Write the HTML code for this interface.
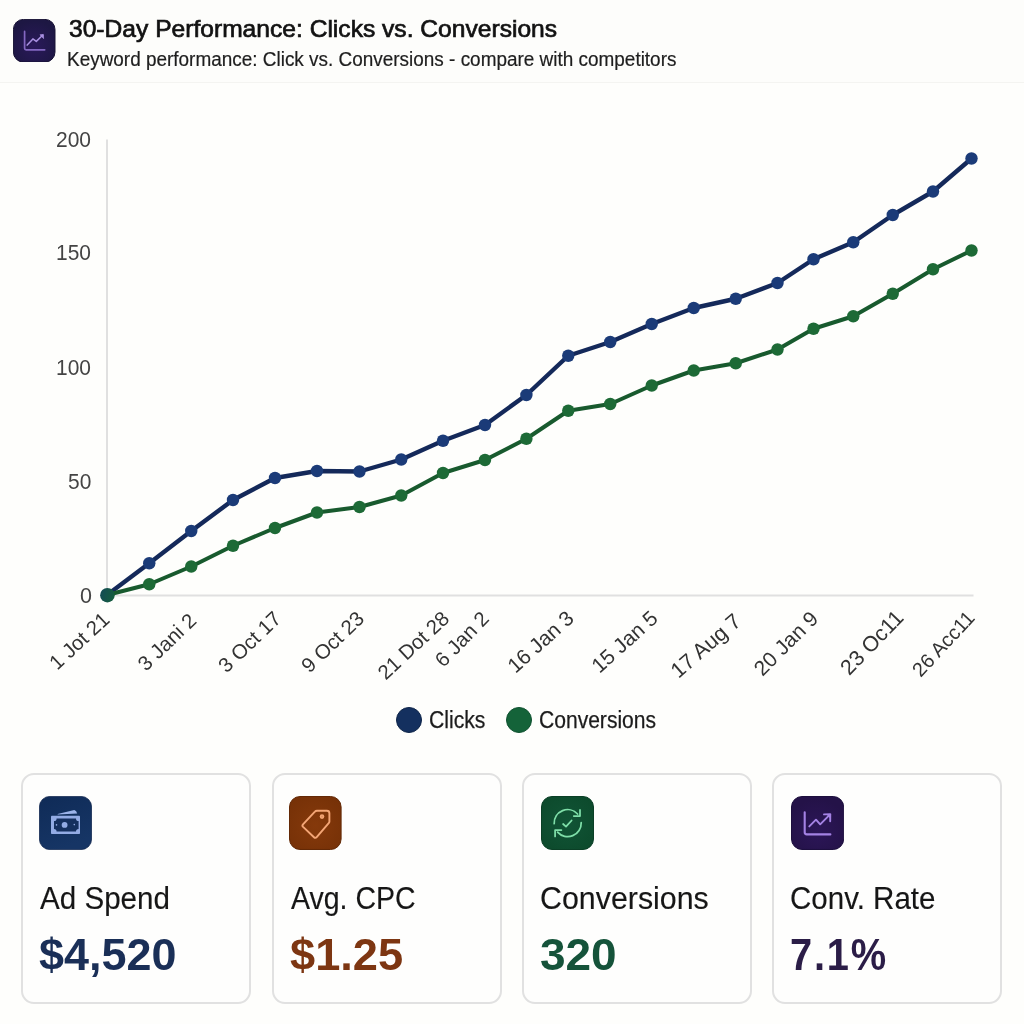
<!DOCTYPE html>
<html lang="en">
<head>
<meta charset="utf-8">
<title>30-Day Performance: Clicks vs. Conversions</title>
<style>
*{box-sizing:border-box;margin:0;padding:0}
html,body{width:1024px;height:1024px;overflow:hidden;background:#fefefc;font-family:"Liberation Sans",sans-serif;color:#1a1a1a}
.abs{position:absolute}
.tx{white-space:nowrap;transform-origin:0 50%}
#hr{left:0;top:0;width:1024px;height:83px;background:#fdfdfb;border-bottom:1px solid #f4f4f1}
.xl{font-size:20px;line-height:24px;color:#333;white-space:nowrap;transform-origin:100% 50%;transform:rotate(-41deg);text-align:right}
.dot{width:26px;height:26px;border-radius:50%}
.card{top:773px;width:230px;height:231px;border:2px solid #e1e1e1;border-radius:13px;background:#fefefd}
</style>
</head>
<body>
<div class="abs" id="hr"></div>
<svg class="abs" style="left:13.4px;top:18.75px" width="42.4" height="43.5" viewBox="0 0 42.4 43.5">
<defs><radialGradient id="gh" cx="50%" cy="62%" r="60%"><stop offset="0" stop-color="#2a195a"/><stop offset="1" stop-color="#1d1743"/></radialGradient></defs>
<rect x="0.4" y="0.4" width="41.6" height="42.7" rx="10" fill="url(#gh)" stroke="#161033" stroke-width="1"/>
<path d="M11.6 12.4 V29.3 Q11.6 30.8 13.1 30.8 H31.7" fill="none" stroke="#8468c2" stroke-width="1.7" stroke-linecap="round" stroke-linejoin="round"/>
<path d="M14.2 26.1 L19.9 19.9 L23.3 22.4 L29.6 16.2" fill="none" stroke="#a88fe0" stroke-width="1.5" stroke-linecap="round" stroke-linejoin="round"/>
<path d="M27 15.8 L30.4 15.4 L30.6 19.6 Z" fill="#a88fe0" stroke="#a88fe0" stroke-width="0.7" stroke-linejoin="round"/>
</svg>

<svg class="abs" style="left:0;top:0" width="1024" height="760" viewBox="0 0 1024 760">
<line x1="107" y1="139.5" x2="107" y2="596" stroke="#e0e0e0" stroke-width="2"/>
<line x1="106" y1="595.5" x2="973.5" y2="595.5" stroke="#e0e0e0" stroke-width="2"/>
<g><polyline fill="none" stroke="#14295a" stroke-width="4.4" stroke-linejoin="round" stroke-linecap="round" points="107,595 149.25,563.25 191.25,531 233,500 275,478 317,471 359.5,471.5 401.25,459.5 443,440.75 485,425 526.4,395 568.25,355.75 610.25,342 651.75,324 693.75,308 735.75,298.75 777.5,283 813.5,259.25 853.25,242.25 892.75,215 933,191.5 971.5,158.5"/><circle cx="149.25" cy="563.25" r="6.2" fill="#1b3b78"/><circle cx="191.25" cy="531" r="6.2" fill="#1b3b78"/><circle cx="233" cy="500" r="6.2" fill="#1b3b78"/><circle cx="275" cy="478" r="6.2" fill="#1b3b78"/><circle cx="317" cy="471" r="6.2" fill="#1b3b78"/><circle cx="359.5" cy="471.5" r="6.2" fill="#1b3b78"/><circle cx="401.25" cy="459.5" r="6.2" fill="#1b3b78"/><circle cx="443" cy="440.75" r="6.2" fill="#1b3b78"/><circle cx="485" cy="425" r="6.2" fill="#1b3b78"/><circle cx="526.4" cy="395" r="6.2" fill="#1b3b78"/><circle cx="568.25" cy="355.75" r="6.2" fill="#1b3b78"/><circle cx="610.25" cy="342" r="6.2" fill="#1b3b78"/><circle cx="651.75" cy="324" r="6.2" fill="#1b3b78"/><circle cx="693.75" cy="308" r="6.2" fill="#1b3b78"/><circle cx="735.75" cy="298.75" r="6.2" fill="#1b3b78"/><circle cx="777.5" cy="283" r="6.2" fill="#1b3b78"/><circle cx="813.5" cy="259.25" r="6.2" fill="#1b3b78"/><circle cx="853.25" cy="242.25" r="6.2" fill="#1b3b78"/><circle cx="892.75" cy="215" r="6.2" fill="#1b3b78"/><circle cx="933" cy="191.5" r="6.2" fill="#1b3b78"/><circle cx="971.5" cy="158.5" r="6.2" fill="#1b3b78"/></g>
<g><polyline fill="none" stroke="#185a2e" stroke-width="4" stroke-linejoin="round" stroke-linecap="round" points="107,595 149.25,584.25 191.25,566.5 233,545.75 275,528 317,512.5 359.5,507 401.25,495.5 443,473 485,460 526.4,438.75 568.25,410.75 610.25,404 651.75,385.5 693.75,370.5 735.75,363.25 777.5,349.5 813.5,328.75 853.25,316.25 892.75,293.75 933,269.25 971.5,250.5"/><circle cx="149.25" cy="584.25" r="6.2" fill="#1d6a36"/><circle cx="191.25" cy="566.5" r="6.2" fill="#1d6a36"/><circle cx="233" cy="545.75" r="6.2" fill="#1d6a36"/><circle cx="275" cy="528" r="6.2" fill="#1d6a36"/><circle cx="317" cy="512.5" r="6.2" fill="#1d6a36"/><circle cx="359.5" cy="507" r="6.2" fill="#1d6a36"/><circle cx="401.25" cy="495.5" r="6.2" fill="#1d6a36"/><circle cx="443" cy="473" r="6.2" fill="#1d6a36"/><circle cx="485" cy="460" r="6.2" fill="#1d6a36"/><circle cx="526.4" cy="438.75" r="6.2" fill="#1d6a36"/><circle cx="568.25" cy="410.75" r="6.2" fill="#1d6a36"/><circle cx="610.25" cy="404" r="6.2" fill="#1d6a36"/><circle cx="651.75" cy="385.5" r="6.2" fill="#1d6a36"/><circle cx="693.75" cy="370.5" r="6.2" fill="#1d6a36"/><circle cx="735.75" cy="363.25" r="6.2" fill="#1d6a36"/><circle cx="777.5" cy="349.5" r="6.2" fill="#1d6a36"/><circle cx="813.5" cy="328.75" r="6.2" fill="#1d6a36"/><circle cx="853.25" cy="316.25" r="6.2" fill="#1d6a36"/><circle cx="892.75" cy="293.75" r="6.2" fill="#1d6a36"/><circle cx="933" cy="269.25" r="6.2" fill="#1d6a36"/><circle cx="971.5" cy="250.5" r="6.2" fill="#1d6a36"/></g>
<defs><linearGradient id="g0" x1="0" y1="0" x2="1" y2="0.3"><stop offset="0" stop-color="#144a56"/><stop offset="1" stop-color="#155c40"/></linearGradient></defs><circle cx="107.4" cy="595.2" r="7.3" fill="url(#g0)"/>
</svg>

<div class="abs xl" style="right:917.8px;top:604.1px;font-size:20.5px;transform:rotate(-43deg)">1 Jot 21</div>
<div class="abs xl" style="right:831.5px;top:604.6px;font-size:20.5px;transform:rotate(-44deg)">3 Jani 2</div>
<div class="abs xl" style="right:746.1px;top:603.1px;font-size:20.5px;transform:rotate(-44deg)">3 Oct 17</div>
<div class="abs xl" style="right:663.4px;top:603.2px;font-size:20.5px;transform:rotate(-44deg)">9 Oct 23</div>
<div class="abs xl" style="right:578.6px;top:603px;font-size:20.5px;transform:rotate(-43deg)">21 Dot 28</div>
<div class="abs xl" style="right:538.4px;top:603.4px;font-size:20.5px;transform:rotate(-46deg)">6 Jan 2</div>
<div class="abs xl" style="right:453.4px;top:603.4px;font-size:21px;transform:rotate(-42deg)">16 Jan 3</div>
<div class="abs xl" style="right:369.6px;top:602.9px;font-size:21px;transform:rotate(-42deg)">15 Jan 5</div>
<div class="abs xl" style="right:286.6px;top:605.5px;font-size:21.5px;transform:rotate(-41deg)">17 Aug 7</div>
<div class="abs xl" style="right:209.6px;top:603.1px;font-size:21px;transform:rotate(-45deg)">20 Jan 9</div>
<div class="abs xl" style="right:124.6px;top:602px;font-size:21.5px;transform:rotate(-46deg)">23 Oc11</div>
<div class="abs xl" style="right:53.2px;top:602px;font-size:20px;transform:rotate(-47deg)">26 Acc11</div>


<div class="abs dot" style="left:395.7px;top:707.1px;background:#14305f;border:1.5px solid #0e2549"></div>
<div class="abs dot" style="left:505.7px;top:707.1px;background:#146339;border:1.5px solid #0f5230"></div>

<div class="abs card" style="left:21px"></div>
<div class="abs card" style="left:272px"></div>
<div class="abs card" style="left:522px"></div>
<div class="abs card" style="left:772px"></div>
<svg class="abs" style="left:39px;top:796.4px" width="53" height="54" viewBox="0 0 53 54">
<defs><linearGradient id="g1" x1="0" y1="0" x2="0.4" y2="1"><stop offset="0" stop-color="#0f2b57"/><stop offset="1" stop-color="#163565"/></linearGradient></defs>
<rect x="0.4" y="0.4" width="52.2" height="53.2" rx="10.5" fill="url(#g1)" stroke="#10264e" stroke-width="0.8"/>
<path d="M18.6 18.1 L35.3 14.1 Q37.6 14.6 38.2 17.6 L18.7 18.4 Z" fill="#9db4ea"/>
<rect x="12" y="19.7" width="29" height="18.3" rx="0.8" fill="#93abe4"/>
<path d="M17.6 22.5 H37 A2.6 2.6 0 0 0 39.6 25.1 V33 A2.6 2.6 0 0 0 37 35.6 H17.6 A2.6 2.6 0 0 0 15 33 V25.1 A2.6 2.6 0 0 0 17.6 22.5 Z" fill="#15305f"/>
<circle cx="25.6" cy="28.9" r="2.9" fill="#93abe4"/>
<circle cx="17.5" cy="28.9" r="0.8" fill="#93abe4"/><circle cx="35.3" cy="28.6" r="0.8" fill="#93abe4"/>
</svg>
<svg class="abs" style="left:289.4px;top:796.3px" width="52.6" height="54" viewBox="0 0 52.6 54">
<defs><radialGradient id="g2" cx="50%" cy="55%" r="65%"><stop offset="0" stop-color="#85390b"/><stop offset="1" stop-color="#763107"/></radialGradient></defs>
<rect x="0.5" y="0.5" width="51.6" height="53" rx="10.5" fill="url(#g2)" stroke="#622805" stroke-width="1"/>
<path d="M27.6 13.9 H37.6 Q40.1 13.9 40.1 16.4 V24.6 Q40.1 25.6 39.4 26.4 L27.4 40.3 Q26.1 41.7 24.7 40.4 L13.8 30.1 Q12.5 28.8 13.7 27.5 L25.6 14.8 Q26.4 13.9 27.6 13.9 Z" fill="none" stroke="#f4a676" stroke-width="1.9" stroke-linejoin="round" transform="translate(0.3 0.8)"/>
<circle cx="33" cy="20.6" r="2.3" fill="#f4a676"/><circle cx="33" cy="20.6" r="0.9" fill="#e0935f"/>
</svg>
<svg class="abs" style="left:540.5px;top:796.4px" width="53" height="54" viewBox="0 0 53 54">
<defs><radialGradient id="g3" cx="50%" cy="50%" r="70%"><stop offset="0" stop-color="#115436"/><stop offset="1" stop-color="#0c492b"/></radialGradient></defs>
<rect x="0.5" y="0.5" width="52" height="53" rx="10.5" fill="url(#g3)" stroke="#0b3f26" stroke-width="1"/>
<g fill="none" stroke="#7fdfa9" stroke-width="1.75" stroke-linecap="round" stroke-linejoin="round">
<path d="M13.2 27.6 A13.5 13.5 0 0 1 36.6 18"/>
<path d="M39 13.9 V20.1 H32.8"/>
<path d="M40.2 26.6 A13.5 13.5 0 0 1 16.6 36.1"/>
<path d="M14.1 40.4 V34.1 H20.4"/>
<path d="M22.1 28 L25 30.6 L30.6 24.5"/>
</g>
</svg>
<svg class="abs" style="left:790.8px;top:796.3px" width="53.2" height="54" viewBox="0 0 53.2 54">
<defs><radialGradient id="g4" cx="50%" cy="65%" r="60%"><stop offset="0" stop-color="#2c1658"/><stop offset="1" stop-color="#241248"/></radialGradient></defs>
<rect x="0.5" y="0.5" width="52.2" height="53" rx="10.5" fill="url(#g4)" stroke="#1c0e3c" stroke-width="1"/>
<g fill="none" stroke="#a482e4" stroke-width="2.1" stroke-linecap="round" stroke-linejoin="round">
<path d="M13.7 16.3 V36.3 Q13.7 38.4 15.8 38.4 H39.4"/>
<path d="M18.3 30.4 L25 23.7 L29.2 28.3 L38.6 18.8" stroke-width="1.9"/>
</g>
<path d="M33 18.4 L39.3 18.1 L39.2 25.2" fill="none" stroke="#a482e4" stroke-width="1.9" stroke-linecap="round" stroke-linejoin="round"/><path d="M35.6 18.4 L39.2 18.2 L39.1 22.2 Z" fill="#a482e4"/>
</svg>

<div class="abs tx" id="title" style="left:68.50px;top:13.58px;font-size:24.3px;line-height:29px;transform:scaleX(1.0125);color:#121212;-webkit-text-stroke:0.7px #121212">30-Day Performance: Clicks vs. Conversions</div>
<div class="abs tx" id="sub" style="left:67.25px;top:47.21px;font-size:19.6px;line-height:24px;transform:scaleX(0.9666);color:#1e1e1e;-webkit-text-stroke:0.2px #1e1e1e">Keyword performance: Click vs. Conversions - compare with competitors</div>
<div class="abs tx" id="y200" style="left:56.30px;top:126.52px;font-size:21.3px;line-height:26px;transform:scaleX(0.9855);color:#444">200</div>
<div class="abs tx" id="y150" style="left:56.40px;top:240.42px;font-size:21.3px;line-height:26px;transform:scaleX(0.9828);color:#444">150</div>
<div class="abs tx" id="y100" style="left:56.40px;top:354.52px;font-size:21.3px;line-height:26px;transform:scaleX(0.9828);color:#444">100</div>
<div class="abs tx" id="y50" style="left:68.20px;top:468.62px;font-size:21.3px;line-height:26px;transform:scaleX(0.9821);color:#444">50</div>
<div class="abs tx" id="y0" style="left:79.80px;top:582.82px;font-size:21.3px;line-height:26px;transform:scaleX(1.0101);color:#444">0</div>
<div class="abs tx" id="lg1" style="left:429.20px;top:705.93px;font-size:23.3px;line-height:28px;transform:scaleX(0.9084);color:#1c1c1c;-webkit-text-stroke:0.25px #1c1c1c">Clicks</div>
<div class="abs tx" id="lg2" style="left:538.50px;top:705.93px;font-size:23.3px;line-height:28px;transform:scaleX(0.9039);color:#1c1c1c;-webkit-text-stroke:0.25px #1c1c1c">Conversions</div>
<div class="abs tx" id="c1l" style="left:39.50px;top:879.58px;font-size:30.8px;line-height:37px;transform:scaleX(0.9608);color:#161616;-webkit-text-stroke:0.15px #161616">Ad Spend</div>
<div class="abs tx" id="c1v" style="left:38.75px;top:928.15px;font-size:44.3px;line-height:53px;transform:scaleX(1.0150);color:#1a2f57;font-weight:bold">$4,520</div>
<div class="abs tx" id="c2l" style="left:290.50px;top:879.58px;font-size:30.8px;line-height:37px;transform:scaleX(0.9254);color:#161616;-webkit-text-stroke:0.15px #161616">Avg. CPC</div>
<div class="abs tx" id="c2v" style="left:289.75px;top:928.15px;font-size:44.3px;line-height:53px;transform:scaleX(1.0207);color:#7d3612;font-weight:bold">$1.25</div>
<div class="abs tx" id="c3l" style="left:540.00px;top:878.59px;font-size:32.2px;line-height:39px;transform:scaleX(0.9435);color:#161616;-webkit-text-stroke:0.15px #161616">Conversions</div>
<div class="abs tx" id="c3v" style="left:540.00px;top:927.66px;font-size:45px;line-height:54px;transform:scaleX(1.0210);color:#15533a;font-weight:bold">320</div>
<div class="abs tx" id="c4l" style="left:790.25px;top:878.59px;font-size:32.2px;line-height:39px;transform:scaleX(0.9167);color:#161616;-webkit-text-stroke:0.15px #161616">Conv. Rate</div>
<div class="abs tx" id="c4v" style="left:790.25px;top:927.66px;font-size:45px;line-height:54px;transform:scaleX(0.8845);color:#2b1d47;font-weight:bold;letter-spacing:2px">7.1%</div>

</body>
</html>
